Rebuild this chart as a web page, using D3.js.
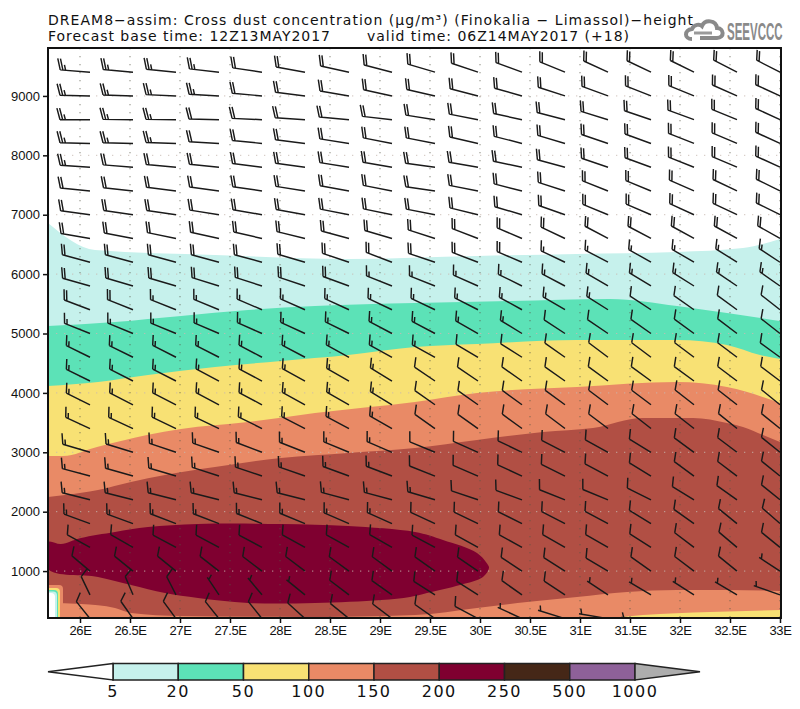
<!DOCTYPE html>
<html><head><meta charset="utf-8">
<script src="https://cdn.jsdelivr.net/npm/d3@7"></script>
<style>html,body{margin:0;padding:0;background:#fff}svg{display:block}text{font-family:"DejaVu Sans",sans-serif;fill:#111}</style>
</head><body><svg id="c" width="800" height="709"></svg>
<script>
const xTicks=[26,26.5,27,27.5,28,28.5,29,29.5,30,30.5,31,31.5,32,32.5,33];
const yTicks=[1000,2000,3000,4000,5000,6000,7000,8000,9000];
const levels=[5,20,50,100,150,200,250,500,1000];
const barColors=["#c6f1ec","#5ce2b7","#f8e174","#e98a66","#b14f44","#7f0030","#452717","#8e6199"];
const overColor="#adadad";
const c5=[[25.68,6860],[26.15,6406],[27.35,6322],[28.68,6254],[29.97,6305],[30.97,6338],[31.97,6372],[32.63,6439],[33,6591]];
const c20=[[25.68,5126],[26.35,5194],[27.01,5295],[27.68,5396],[28.35,5463],[29.35,5513],[30.3,5547],[31.3,5581],[31.97,5463],[32.47,5345],[33,5210]];
const c50=[[25.68,4116],[26.18,4184],[26.68,4301],[27.35,4436],[28.01,4537],[28.68,4638],[29.35,4773],[29.97,4823],[30.97,4891],[31.97,4891],[32.47,4806],[32.8,4638],[33,4571]];
const c100=[[25.68,2938],[25.83,2938],[26.17,3089],[26.67,3291],[27.01,3392],[27.68,3510],[28.35,3662],[29.35,3847],[29.97,3998],[30.97,4099],[31.97,4184],[32.47,4099],[33,3830]];
const c150=[[25.68,2247],[25.85,2281],[26.18,2365],[26.51,2500],[26.85,2618],[27.35,2753],[28.01,2904],[28.68,2988],[29.35,3072],[29.97,3207],[30.63,3342],[31.13,3409],[31.63,3577],[32.13,3577],[32.47,3493],[32.63,3426],[32.83,3291],[33,3173]];
const blob200=[[25.68,1490],[25.81,1456],[26.01,1557],[26.35,1658],[26.68,1742],[27.18,1793],[28.01,1793],[28.68,1759],[29.35,1658],[29.63,1524],[29.97,1305],[30.08,1103],[30.09,1052],[30.03,901],[29.8,766],[29.47,631],[29.3,564],[29.01,513],[28.35,463],[27.68,463],[27.18,547],[26.85,631],[26.51,766],[26.18,901],[25.68,1035]];
const low150=[[25.68,463],[26.01,446],[26.35,379],[26.51,295],[27.01,244],[28.2,227],[29.35,261],[29.97,379],[30.47,480],[30.97,564],[31.47,648],[31.97,682],[32.47,682],[33,665]];
const low100=[[31.3,210],[31.63,261],[32.3,311],[33,345]];
const cornerLons=[25.83,25.8,25.78,25.77,25.75];
const cornerTops=[766,716,682,657,631];
const cornerColors=["#e98a66","#f8e174","#5ce2b7","#c6f1ec","#ffffff"];
const barbLons=[26.1,26.53,26.96,27.39,27.82,28.25,28.69,29.12,29.55,29.98,30.42,30.85,31.28,31.71,32.14,32.57,33];
const barbHeights=[9400,9000,8600,8200,7800,7400,7000,6600,6200,5800,5400,5000,4600,4200,3800,3400,3000,2600,2200,1800,1400,1000,600,200];
const barbDir=[
[277,278,279,280,283,286,289,292,295,298,300,303,306,307,308,309,309],
[272,273,274,275,278,281,285,289,290,292,294,297,300,302,303,305,306],
[270,271,271,272,274,276,278,280,284,287,289,292,296,298,300,303,306],
[272,272,273,275,279,281,284,287,287,290,292,295,298,300,302,304,306],
[276,277,278,279,281,282,284,285,282,285,288,293,298,300,302,304,306],
[279,280,281,282,283,284,286,287,283,287,292,297,302,303,305,307,308],
[282,283,283,284,285,286,287,288,287,291,295,299,303,304,306,307,308],
[285,287,288,289,290,291,293,295,297,301,304,307,310,310,311,311,312],
[293,293,293,293,293,295,298,301,298,301,304,307,310,312,313,315,316],
[294,295,295,296,297,298,300,302,302,305,308,310,313,314,315,317,318],
[301,302,302,303,304,305,306,307,307,309,311,313,315,316,318,319,321],
[302,303,303,304,305,306,308,310,310,312,314,316,317,318,319,320,321],
[308,308,309,309,310,310,311,311,311,313,315,318,320,320,320,320,319],
[308,309,309,310,310,311,312,314,317,317,318,318,319,319,319,320,320],
[308,309,309,310,310,311,312,314,318,318,319,319,320,320,321,321,322],
[306,306,307,307,308,309,310,312,318,318,319,320,320,321,321,322,322],
[295,296,298,299,301,302,303,304,303,305,307,309,311,314,319,320,322],
[293,294,295,297,298,299,300,301,302,304,306,308,310,314,319,320,322],
[292,292,292,292,292,292,293,293,295,298,300,302,303,308,314,318,322],
[300,300,301,301,302,303,304,305,306,307,308,309,310,314,318,322,324],
[311,312,310,310,310,311,311,312,310,311,311,312,312,315,320,323,322],
[323,322,322,321,320,320,319,319,318,317,316,315,313,318,320,322,316],
[343,345,342,337,332,322,320,318,315,315,318,316,316,313,315,313,299],
[333,336,335,333,333,325,322,320,318,310,306,296,285,273,258,255,250]];
const barbSpeed=[
[25,25,25,25,20,20,20,20,20,20,20,20,20,20,20,20,20],
[25,25,25,25,20,20,20,20,20,20,20,20,20,20,20,20,20],
[25,25,25,20,20,20,20,20,20,20,20,20,20,20,20,20,20],
[25,25,25,20,20,20,20,20,20,20,20,20,20,20,20,20,20],
[25,20,20,20,20,20,20,20,20,20,20,20,20,20,20,20,20],
[20,20,20,20,20,20,20,20,20,20,20,20,20,20,20,20,20],
[20,20,20,20,20,20,20,20,20,20,20,20,20,20,20,20,20],
[20,20,20,20,20,20,20,20,20,20,20,20,20,20,20,20,20],
[20,20,20,20,20,20,20,20,20,20,20,15,15,15,15,15,15],
[20,20,20,20,20,20,20,15,15,15,15,15,15,15,15,15,15],
[20,20,15,15,15,15,15,15,15,15,15,15,15,10,10,10,10],
[15,15,15,15,15,15,15,15,15,15,15,10,10,10,10,10,10],
[15,15,15,15,15,15,15,15,15,10,10,10,10,10,10,10,10],
[15,15,15,15,15,15,15,15,10,10,10,10,10,10,10,10,10],
[15,15,15,15,15,15,15,15,10,10,10,10,10,10,10,10,10],
[15,15,15,15,15,15,15,15,10,10,10,10,10,10,10,10,10],
[15,15,15,15,15,15,15,15,10,10,10,10,10,10,10,10,10],
[15,15,15,15,15,15,15,15,10,10,10,10,10,10,10,10,10],
[15,15,15,15,15,15,15,15,15,10,10,10,10,10,10,10,10],
[15,15,15,15,15,15,15,15,10,10,10,10,10,10,10,10,10],
[10,10,10,10,10,10,10,10,10,10,10,10,10,10,10,10,10],
[10,10,10,10,10,10,10,10,10,10,10,10,10,10,10,10,5],
[10,10,10,5,5,5,10,10,10,10,10,10,5,5,5,5,5],
[10,10,10,10,10,10,10,10,10,10,5,5,5,5,5,5,5]];

const svg=d3.select("#c");
const x=d3.scaleLinear().domain([25.68,33]).range([48,780]);
const y=d3.scaleLinear().domain([210,9807]).range([618,48]);
svg.append("defs").append("clipPath").attr("id","plot").append("rect").attr("x",48).attr("y",48).attr("width",733).attr("height",570);
const plot=svg.append("g").attr("clip-path","url(#plot)");
const under=d3.area().x(d=>x(d[0])).y0(y(210)).y1(d=>y(d[1])).curve(d3.curveMonotoneX);
[[c5,barColors[0]],[c20,barColors[1]],[c50,barColors[2]],[c100,barColors[3]],[c150,barColors[4]]].forEach(([d,col])=>plot.append("path").attr("d",under(d)).attr("fill",col));
plot.append("path").attr("d",d3.line().x(d=>x(d[0])).y(d=>y(d[1])).curve(d3.curveCatmullRomClosed)(blob200)).attr("fill",barColors[5]);
plot.append("path").attr("d",under(low150)).attr("fill",barColors[3]);
plot.append("path").attr("d",under(low100)).attr("fill",barColors[2]);
cornerLons.forEach((lon,i)=>plot.append("rect").attr("x",40).attr("y",y(cornerTops[i])).attr("width",x(lon)-40).attr("height",40).attr("rx",4).attr("fill",cornerColors[i]));

// grid
plot.selectAll(".gx").data(xTicks).join("line").attr("x1",d=>x(d)).attr("x2",d=>x(d)).attr("y1",48).attr("y2",618)
 .attr("stroke","#554").attr("stroke-opacity",0.7).attr("stroke-width",1).attr("stroke-dasharray","1.3 6.7");
plot.selectAll(".gy").data(yTicks).join("line").attr("x1",48).attr("x2",781).attr("y1",d=>y(d)).attr("y2",d=>y(d))
 .attr("stroke","#c8b8b0").attr("stroke-opacity",0.85).attr("stroke-width",1).attr("stroke-dasharray","1.3 6.7");

// barbs
const STAFFX=30,STAFFY=19,SHORT=5.5,GAP=2.7;
function barbPath(px,py,dir,speed){
  const b=dir*Math.PI/180,dx=STAFFX*Math.sin(b),dy=-STAFFY*Math.cos(b),len=Math.hypot(dx,dy),ux=dx/len,uy=dy/len;
  const a=Math.abs(Math.atan2(dy,dx<0?-dx:dx))*180/Math.PI;
  const rot=Math.max(62,75-0.34*a)*Math.PI/180,LONG=Math.max(9.7,12-0.06*a);
  const fx=ux*Math.cos(rot)-uy*Math.sin(rot),fy=ux*Math.sin(rot)+uy*Math.cos(rot);
  let p=`M${px},${py}L${px+dx},${py+dy}`,s=speed,i=speed<10?1:0;
  while(s>=5){const L=s>=10?LONG:SHORT,ax=px+dx-ux*GAP*i,ay=py+dy-uy*GAP*i;
    p+=`M${ax},${ay}L${ax+fx*L},${ay+fy*L}`;s-=s>=10?10:5;i++;}
  return p;
}
const barbs=plot.append("g").attr("fill","none").attr("stroke","#1a1a1a").attr("stroke-width",1.45);
barbHeights.forEach((h,r)=>barbLons.forEach((lon,k)=>{
  barbs.append("path").attr("d",barbPath(x(lon),y(h),barbDir[r][k],barbSpeed[r][k]));
}));

// frame & axes
svg.append("rect").attr("x",48).attr("y",48).attr("width",733).attr("height",570).attr("fill","none").attr("stroke","#111").attr("stroke-width",2);
const ax=svg.append("g").attr("transform","translate(0,618)").call(d3.axisBottom(x).tickValues(xTicks).tickSize(5).tickPadding(3).tickFormat(d=>d+"E"));
const ay=svg.append("g").attr("transform","translate(48,0)").call(d3.axisLeft(y).tickValues(yTicks).tickSize(5).tickPadding(3).tickFormat(d=>d));
[ax,ay].forEach(g=>{g.select(".domain").remove();g.selectAll("line").attr("stroke","#111").attr("stroke-width",1.5);
 g.selectAll("text").attr("font-size",13).style("font-family",'"Liberation Sans",sans-serif').attr("fill","#111");});
ax.selectAll("text").attr("letter-spacing",-0.4);

// titles
function T(t,xp,yp,w,fs){return svg.append("text").attr("x",xp).attr("y",yp).attr("font-size",fs||14).attr("textLength",w).attr("lengthAdjust","spacing").text(t);}
T("DREAM8\u2212assim: Cross dust concentration (\u03bcg/m\u00b3) (Finokalia \u2212 Limassol)\u2212height",48,25,645);
T("Forecast base time: 12Z13MAY2017",48,40.5,282);
T("valid time: 06Z14MAY2017 (+18)",367,40.5,262);

// logo
const logo=svg.append("g");
logo.append("path").attr("d","M692,39 C684,39 684,30 692,29 C694,24 700,24 702,26 C705,19 716,20 717,28 C724,28 725,38 717,38 L700,38")
 .attr("fill","none").attr("stroke","#8a8a8a").attr("stroke-width",4);
logo.append("path").attr("d","M694,33 L712,33").attr("stroke","#9a9a9a").attr("stroke-width",3);
logo.append("text").attr("transform","translate(727,40) scale(0.5,1)").attr("font-size",23)
 .style("font-family",'"Liberation Sans",sans-serif').style("font-weight","bold").style("fill","#8a8a8a").text("SEEVCCC");

// colour bar
const cb=d3.scalePoint().domain(levels).range([113,635]);
const cy0=663.5,cy1=680,cyM=(cy0+cy1)/2;
const cbar=svg.append("g");
cbar.selectAll("rect").data(barColors).join("rect").attr("x",(d,i)=>cb(levels[i])).attr("y",cy0).attr("width",(d,i)=>cb(levels[i+1])-cb(levels[i])).attr("height",cy1-cy0)
 .attr("fill",d=>d).attr("stroke","#222").attr("stroke-width",1.5);
cbar.append("path").attr("d",`M${cb(5)},${cy0}L48,${cyM}L${cb(5)},${cy1}Z`).attr("fill","#fff").attr("stroke","#222").attr("stroke-width",1.5);
cbar.append("path").attr("d",`M${cb(1000)},${cy0}L700,${cyM}L${cb(1000)},${cy1}Z`).attr("fill",overColor).attr("stroke","#222").attr("stroke-width",1.5);
cbar.selectAll("text").data(levels).join("text").attr("x",d=>cb(d)).attr("y",697).attr("text-anchor","middle").attr("font-size",16).attr("letter-spacing",1.5).text(d=>d);
</script></body></html>
